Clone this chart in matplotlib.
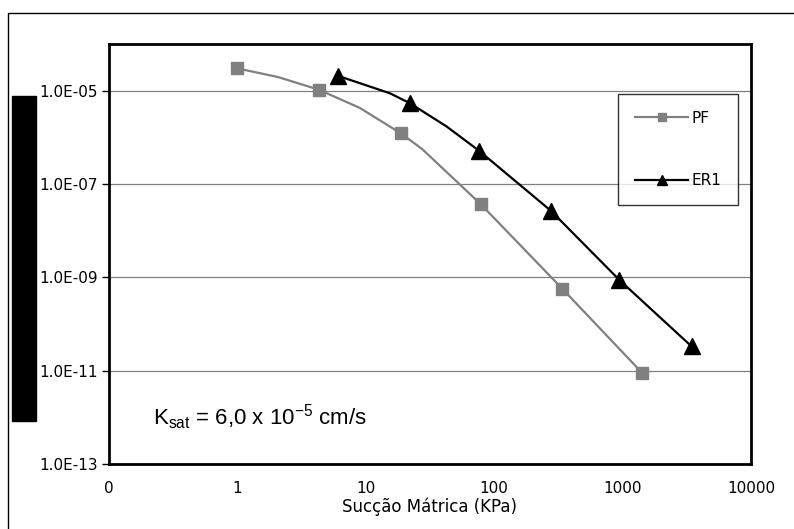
import matplotlib
matplotlib.use("Agg")
import matplotlib.pyplot as plt
from matplotlib.patches import Rectangle

# suction (kPa) and hydraulic conductivity
pf_x = [1.0, 4.3, 18.7, 78.5, 339, 1423]
pf_k = [3.0e-5, 1.05e-5, 1.22e-6, 3.7e-8, 5.7e-10, 8.9e-12]
# smoothed line path (markers plus the bends seen between them)
pf_line_x = [1.0, 2.07, 4.3, 9.0, 18.7, 27.4, 78.5, 339, 1423]
pf_line_k = [3.0e-5, 1.96e-5, 1.05e-5, 4.26e-6, 1.22e-6, 5.65e-7, 3.7e-8, 5.7e-10, 8.9e-12]

er_x = [6.1, 22.1, 76.6, 275, 943, 3450]
er_k = [2.07e-5, 5.37e-6, 5.1e-7, 2.7e-8, 8.8e-10, 3.3e-11]
er_line_x = [6.1, 15.4, 22.1, 42.7, 76.6, 275, 943, 3450]
er_line_k = [2.07e-5, 8.8e-6, 5.37e-6, 1.7e-6, 5.1e-7, 2.7e-8, 8.8e-10, 3.3e-11]

x_ticks = [0.1, 1, 10, 100, 1000, 10000]
x_ticklabels = ["0", "1", "10", "100", "1000", "10000"]
y_ticks = [1e-13, 1e-11, 1e-9, 1e-7, 1e-5]
y_ticklabels = ["1.0E-13", "1.0E-11", "1.0E-09", "1.0E-07", "1.0E-05"]

W, H = 794, 529
fig = plt.figure(figsize=(W / 100, H / 100), dpi=100)
ax = fig.add_axes([109 / W, 1 - 464 / H, (751 - 109) / W, (464 - 44) / H])

gray = "#808080"
ax.plot(pf_line_x, pf_line_k, color=gray, lw=1.6, zorder=3)
ax.plot(pf_x, pf_k, ls="none", marker="s", ms=9, color=gray, zorder=4)
ax.plot(er_line_x, er_line_k, color="black", lw=1.6, zorder=3)
ax.plot(er_x, er_k, ls="none", marker="^", ms=11, color="black", zorder=4)

# legend proxies
ax.plot([], [], color=gray, lw=1.6, marker="s", ms=6, label="PF")
ax.plot([], [], color="black", lw=1.6, marker="^", ms=7, label="ER1")

ax.set_xscale("log")
ax.set_yscale("log")
ax.set_xlim(0.1, 10000)
ax.set_ylim(1e-13, 1e-4)
ax.set_xticks(x_ticks)
ax.set_xticklabels(x_ticklabels)
ax.set_yticks(y_ticks)
ax.set_yticklabels(y_ticklabels)
ax.minorticks_off()
ax.tick_params(axis="x", length=0, pad=12, labelsize=11)
ax.tick_params(axis="y", length=5, width=1, pad=3, labelsize=11)
ax.yaxis.grid(True, color=gray, lw=0.9)
ax.set_axisbelow(True)
for s in ax.spines.values():
    s.set_linewidth(2)

ax.set_xlabel("Sucção Mátrica (KPa)", fontsize=12, labelpad=1)

leg = ax.legend(loc="upper left", bbox_to_anchor=(618 / W, 1 - 94 / H),
                bbox_transform=fig.transFigure, fontsize=11, frameon=True,
                fancybox=False, edgecolor="black", handlelength=3.5,
                handletextpad=0.2, labelspacing=3.1, borderpad=1.1,
                borderaxespad=0)
leg.get_frame().set_linewidth(1)

fig.text(153 / W, 1 - 425 / H,
         r"K$_{\mathregular{sat}}$ = 6,0 x 10$^{\mathregular{-5}}$ cm/s",
         fontsize=16, family="Liberation Sans", ha="left", va="baseline")

# redaction block and outer chart frame
fig.patches.append(Rectangle((12 / W, 1 - 421 / H), 24 / W, 325 / H,
                             transform=fig.transFigure, color="black"))
fig.patches.append(Rectangle((8 / W, -0.05), 1.2, 1.05 - 13 / H,
                             transform=fig.transFigure, fill=False,
                             edgecolor="black", lw=1))

fig.savefig("out.png", dpi=100)
